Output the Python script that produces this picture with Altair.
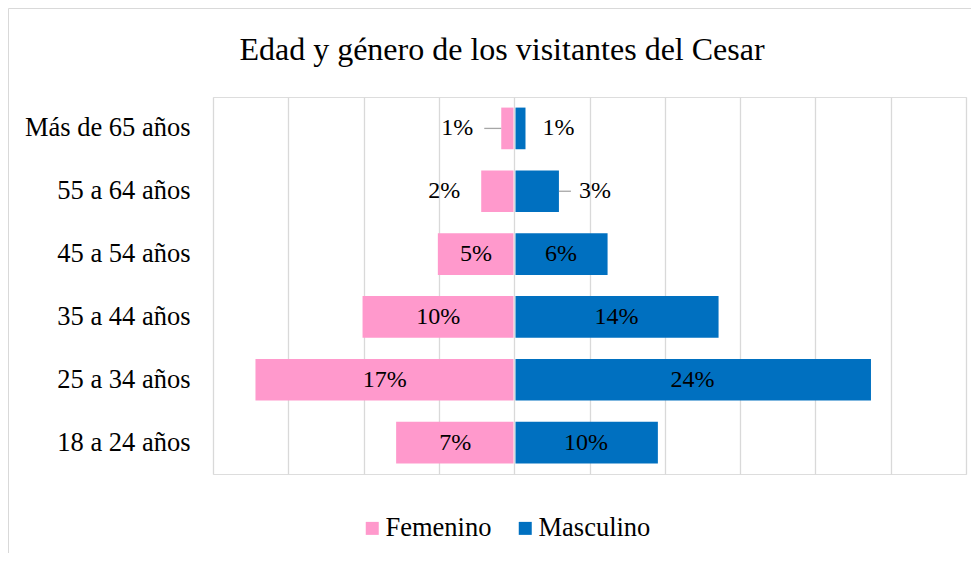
import altair as alt
import pandas as pd

# ---- data ----
categories = ["Más de 65 años", "55 a 64 años", "45 a 54 años",
              "35 a 44 años", "25 a 34 años", "18 a 24 años"]
femenino = [0.86, 2.19, 5.07, 10.07, 17.18, 7.84]
masculino = [0.75, 2.97, 6.20, 13.57, 23.69, 9.54]
fem_labels = ["1%", "2%", "5%", "10%", "17%", "7%"]
mas_labels = ["1%", "3%", "6%", "14%", "24%", "10%"]
fem_outside = [True, True, False, False, False, False]
mas_outside = [True, True, False, False, False, False]
fem_leader = [True, False, False, False, False, False]
mas_leader = [False, True, False, False, False, False]
genders = ["Femenino", "Masculino"]
colors = ["#FF99CC", "#0070C0"]
grid_ticks = [-20, -15, -10, -5, 0, 5, 10, 15, 20, 25, 30]
title_text = "Edad y género de los visitantes del Cesar"

rows = []
for i, c in enumerate(categories):
    rows.append(dict(cat=c, gen="Femenino", v=femenino[i], start=-femenino[i], end=0.0,
                     tip=-femenino[i], mid=-femenino[i] / 2, label=fem_labels[i],
                     outside=fem_outside[i], leader=fem_leader[i]))
    rows.append(dict(cat=c, gen="Masculino", v=masculino[i], start=0.0, end=masculino[i],
                     tip=masculino[i], mid=masculino[i] / 2, label=mas_labels[i],
                     outside=mas_outside[i], leader=mas_leader[i]))
df = pd.DataFrame(rows)

FONT = "Liberation Serif"
x_scale = alt.Scale(domain=[-20, 30], nice=False, zero=False)
y_scale = alt.Scale(paddingInner=0.337, paddingOuter=0.1685)
x_axis = alt.Axis(title=None, values=grid_ticks, grid=True, gridColor="#d9d9d9",
                  gridWidth=1.3, labels=False, ticks=False, domain=False)
y_enc = alt.Y("cat:N", sort=categories, scale=y_scale,
              axis=alt.Axis(title=None, domain=False, ticks=False, grid=False,
                            labelFontSize=26.5, labelFont=FONT, labelColor="#000000",
                            labelPadding=23, labelAlign="right"))
color_enc = alt.Color("gen:N", scale=alt.Scale(domain=genders, range=colors),
                      legend=alt.Legend(title=None, orient="none", legendX=146, legendY=418,
                                        direction="horizontal", symbolType="square",
                                        symbolSize=169, symbolStrokeWidth=0,
                                        labelFontSize=26.5, labelFont=FONT,
                                        labelColor="#000000", labelOffset=0,
                                        columnPadding=20))

base = alt.Chart(df)

bars_f = base.transform_filter("datum.gen == 'Femenino'").mark_bar(x2Offset=-0.7).encode(
    x=alt.X("start:Q", scale=x_scale, axis=x_axis), x2="end:Q", y=y_enc, color=color_enc)
bars_m = base.transform_filter("datum.gen == 'Masculino'").mark_bar(xOffset=1.3).encode(
    x=alt.X("start:Q", scale=x_scale, axis=x_axis), x2="end:Q", y=y_enc, color=color_enc)

inside = base.transform_filter("!datum.outside").mark_text(
    font=FONT, fontSize=24, color="#000000").encode(
    x=alt.X("mid:Q", scale=x_scale, axis=x_axis), y=y_enc, text="label:N")

outside_layers = []
for g, lead, align, dx in [("Femenino", True, "right", -28), ("Femenino", False, "right", -21),
                           ("Masculino", True, "left", 20), ("Masculino", False, "left", 17)]:
    cond = f"datum.outside && datum.gen == '{g}' && " + ("datum.leader" if lead else "!datum.leader")
    outside_layers.append(
        base.transform_filter(cond).mark_text(font=FONT, fontSize=24, color="#000000",
                                              align=align, dx=dx).encode(
            x=alt.X("tip:Q", scale=x_scale, axis=x_axis), y=y_enc, text="label:N"))

lead_f = base.transform_filter("datum.leader && datum.gen == 'Femenino'").mark_rule(
    color="#a6a6a6", strokeWidth=1.3, xOffset=-17).encode(
    x=alt.X("tip:Q", scale=x_scale, axis=x_axis), x2="tip:Q", y=y_enc)
lead_m = base.transform_filter("datum.leader && datum.gen == 'Masculino'").mark_rule(
    color="#a6a6a6", strokeWidth=1.3, x2Offset=12).encode(
    x=alt.X("tip:Q", scale=x_scale, axis=x_axis), x2="tip:Q", y=y_enc)

frame_df = pd.DataFrame({"a": [0]})
frame_left = alt.Chart(frame_df).mark_rule(color="#d9d9d9", strokeWidth=1).encode(
    x=alt.value(-204.5), y=alt.value(-88.5), y2=alt.value(456))
frame_top = alt.Chart(frame_df).mark_rule(color="#d9d9d9", strokeWidth=1).encode(
    x=alt.value(-204.5), x2=alt.value(758), y=alt.value(-88.5))

chart = alt.layer(bars_f, bars_m, inside, *outside_layers, lead_f, lead_m,
                  frame_left, frame_top).properties(
    width=753, height=377,
    padding={"left": 205, "top": 89, "right": 5, "bottom": 79},
    autosize=alt.AutoSizeParams(type="none"),
    title=alt.TitleParams(text=title_text, font=FONT, fontSize=32, fontWeight="normal",
                          color="#000000", anchor="middle", frame="group", dx=-87.5,
                          offset=-59),
).configure_view(stroke=None).configure(background="white")

chart.save("out.html", embed_options={"renderer": "svg", "actions": False})
